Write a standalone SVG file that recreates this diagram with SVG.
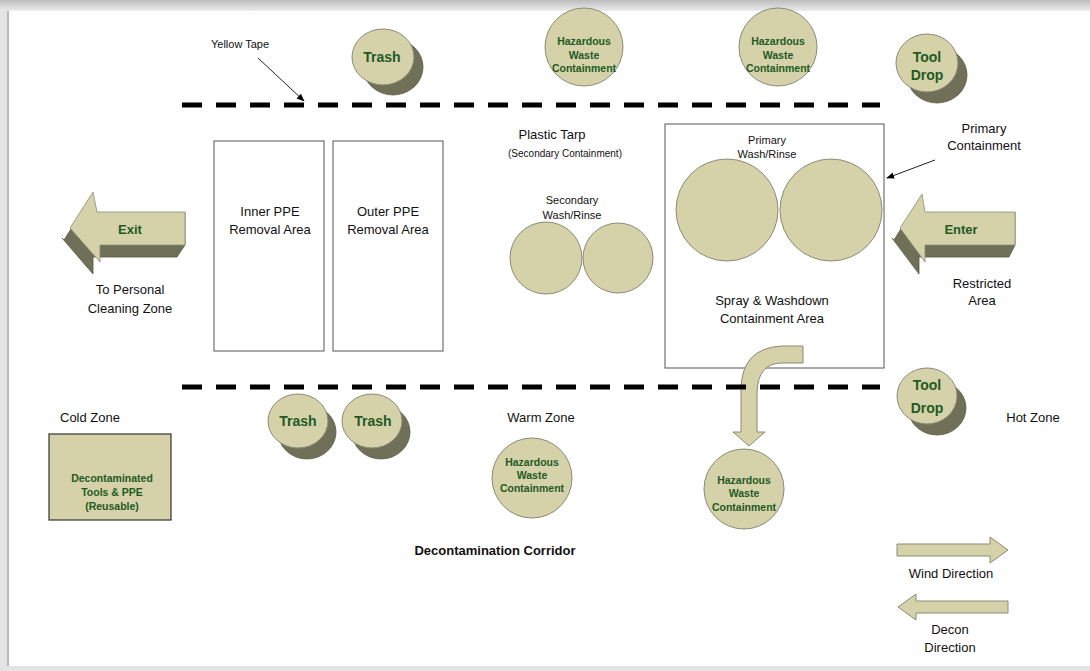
<svg xmlns="http://www.w3.org/2000/svg" width="1090" height="671" viewBox="0 0 1090 671">
<defs>
<style>
.lbl{font-family:"Liberation Sans",Arial,sans-serif;font-size:13px;fill:#111;text-anchor:middle}
.sm{font-family:"Liberation Sans",Arial,sans-serif;font-size:10px;fill:#111;text-anchor:middle}
.g{font-family:"Liberation Sans",Arial,sans-serif;font-weight:bold;fill:#1f5a22;text-anchor:middle}
.tan{fill:#d5d2aa;stroke:#8a8a78;stroke-width:1}
.dark{fill:#707058;stroke:#5a5a48;stroke-width:0.8}
.box{fill:#fff;stroke:#555;stroke-width:1}
.tape{stroke:#000;stroke-width:5;stroke-dasharray:20 14;fill:none}
</style>
<linearGradient id="topg" x1="0" y1="0" x2="0" y2="1">
<stop offset="0" stop-color="#bdbdbd"/><stop offset="1" stop-color="#ececec"/>
</linearGradient>
<marker id="ah" viewBox="0 0 10 10" refX="9" refY="5" markerWidth="8" markerHeight="8" orient="auto" markerUnits="userSpaceOnUse">
<path d="M0,1 L10,5 L0,9 Z" fill="#000"/>
</marker>
</defs>

<rect x="0" y="0" width="1090" height="671" fill="#e4e4e4"/>
<rect x="0" y="0" width="1090" height="11" fill="url(#topg)"/>
<rect x="8" y="11" width="1082" height="655" fill="#fff"/>
<line x1="8" y1="11" x2="8" y2="666" stroke="#b8b8b8" stroke-width="2"/>

<g id="yellow-tape"><text class="lbl" x="240" y="48" style="font-size:11px">Yellow Tape</text></g>

<g id="trash-top">
<ellipse class="dark" cx="393" cy="67" rx="30" ry="28"/>
<ellipse class="tan" cx="383" cy="57" rx="31" ry="28"/>
<text class="g" x="382" y="62" font-size="14">Trash</text>
</g>

<g id="haz-top-1">
<circle class="tan" cx="584" cy="47" r="39"/>
<text class="g" x="584" y="45" font-size="10.5">Hazardous</text>
<text class="g" x="584" y="59" font-size="10.5">Waste</text>
<text class="g" x="584" y="72" font-size="10.5">Containment</text>
</g>

<g id="haz-top-2">
<circle class="tan" cx="778" cy="47" r="39"/>
<text class="g" x="778" y="45" font-size="10.5">Hazardous</text>
<text class="g" x="778" y="59" font-size="10.5">Waste</text>
<text class="g" x="778" y="72" font-size="10.5">Containment</text>
</g>

<g id="tooldrop-top">
<ellipse class="dark" cx="937" cy="75" rx="30" ry="28"/>
<ellipse class="tan" cx="927" cy="63" rx="31" ry="29"/>
<text class="g" x="927" y="62" font-size="14">Tool</text>
<text class="g" x="927" y="80" font-size="14">Drop</text>
</g>

<g id="plastic-tarp">
<text class="lbl" x="552" y="139">Plastic Tarp</text>
<text class="sm" x="565" y="157">(Secondary Containment)</text>
</g>

<g id="primary-containment-label">
<text class="lbl" x="984" y="133">Primary</text>
<text class="lbl" x="984" y="150">Containment</text>
</g>

<g id="exit-arrow">
<polygon class="dark" points="64,240 86,205 90,224 177,224 185,212 185,245 177,257 93,257 93,274 62,238"/>
<polygon points="70,228 93,192 97,212 185,212 185,245 100,245 100,262" fill="#d5d2aa" stroke="#8a8a78" stroke-width="0.8"/>
<text class="g" x="130" y="234" font-size="13">Exit</text>
<text class="lbl" x="130" y="294">To Personal</text>
<text class="lbl" x="130" y="313">Cleaning Zone</text>
</g>

<g id="inner-ppe">
<rect class="box" x="214" y="141" width="110" height="210"/>
<text class="lbl" x="270" y="216">Inner PPE</text>
<text class="lbl" x="270" y="234">Removal Area</text>
</g>

<g id="outer-ppe">
<rect class="box" x="333" y="141" width="110" height="210"/>
<text class="lbl" x="388" y="216">Outer PPE</text>
<text class="lbl" x="388" y="234">Removal Area</text>
</g>

<g id="secondary-wash">
<text class="sm" x="572" y="204" style="font-size:11px">Secondary</text>
<text class="sm" x="572" y="219" style="font-size:11px">Wash/Rinse</text>
<circle class="tan" cx="546" cy="258" r="36"/>
<circle class="tan" cx="618" cy="258" r="35"/>
</g>

<g id="primary-area">
<rect class="box" x="665" y="124" width="219" height="244" stroke="#777"/>
<text class="sm" x="767" y="144" style="font-size:11px">Primary</text>
<text class="sm" x="767" y="158" style="font-size:11px">Wash/Rinse</text>
<circle class="tan" cx="727" cy="210" r="51"/>
<circle class="tan" cx="831" cy="210" r="51"/>
<text class="lbl" x="772" y="305">Spray &amp; Washdown</text>
<text class="lbl" x="772" y="323">Containment Area</text>
</g>

<g id="enter-arrow">
<polygon class="dark" points="894,240 916,205 919,224 1009,224 1015,212 1015,245 1009,257 919,257 919,274 892,238"/>
<polygon points="900,228 922,194 925,212 1015,212 1015,245 925,245 925,262" fill="#d5d2aa" stroke="#8a8a78" stroke-width="0.8"/>
<text class="g" x="961" y="234" font-size="13">Enter</text>
<text class="lbl" x="982" y="288">Restricted</text>
<text class="lbl" x="982" y="305">Area</text>
</g>

<g id="trash-bottom-1">
<ellipse class="dark" cx="307" cy="432" rx="29" ry="27"/>
<ellipse class="tan" cx="298" cy="421" rx="30" ry="27"/>
<text class="g" x="298" y="426" font-size="14">Trash</text>
</g>

<g id="trash-bottom-2">
<ellipse class="dark" cx="381" cy="432" rx="29" ry="27"/>
<ellipse class="tan" cx="372" cy="421" rx="30" ry="27"/>
<text class="g" x="373" y="426" font-size="14">Trash</text>
</g>

<g id="tooldrop-bottom">
<ellipse class="dark" cx="937" cy="408" rx="29" ry="27"/>
<ellipse class="tan" cx="927" cy="396" rx="30" ry="28"/>
<text class="g" x="927" y="390" font-size="14">Tool</text>
<text class="g" x="927" y="413" font-size="14">Drop</text>
</g>

<g id="zones">
<text class="lbl" x="90" y="422">Cold Zone</text>
<text class="lbl" x="541" y="422">Warm Zone</text>
<text class="lbl" x="1033" y="422">Hot Zone</text>
<text class="lbl" x="495" y="555" style="font-weight:bold">Decontamination Corridor</text>
</g>

<g id="decon-tools">
<rect x="49" y="434" width="122" height="86" fill="#d5d2aa" stroke="#333" stroke-width="1.2"/>
<text class="g" x="112" y="482" font-size="10.5">Decontaminated</text>
<text class="g" x="112" y="496" font-size="10.5">Tools &amp; PPE</text>
<text class="g" x="112" y="510" font-size="10.5">(Reusable)</text>
</g>

<g id="haz-warm">
<circle class="tan" cx="532" cy="478" r="40"/>
<text class="g" x="532" y="466" font-size="10.5">Hazardous</text>
<text class="g" x="532" y="479" font-size="10.5">Waste</text>
<text class="g" x="532" y="492" font-size="10.5">Containment</text>
</g>

<g id="haz-bottom-right">
<circle class="tan" cx="744" cy="489" r="40"/>
<text class="g" x="744" y="484" font-size="10.5">Hazardous</text>
<text class="g" x="744" y="497" font-size="10.5">Waste</text>
<text class="g" x="744" y="511" font-size="10.5">Containment</text>
</g>

<g id="wind-direction">
<polygon class="tan" points="897,544 990,544 990,537 1008,550 990,563 990,556 897,556"/>
<text class="lbl" x="951" y="578">Wind Direction</text>
</g>

<g id="decon-direction">
<polygon class="tan" points="1008,601 916,601 916,594 898,607 916,620 916,613 1008,613"/>
<text class="lbl" x="950" y="634">Decon</text>
<text class="lbl" x="950" y="652">Direction</text>
</g>

<g id="connectors">
<path d="M803,346 L782,346 Q741,348 741,390 L741,432 L733,432 L749,446 L765,432 L757,432 L757,392 Q758,363 782,363 L803,363 Z" class="tan"/>
<line class="tape" x1="182" y1="105" x2="880" y2="105"/>
<line class="tape" x1="182" y1="387" x2="880" y2="387"/>
<line x1="258" y1="58" x2="304" y2="101" stroke="#222" stroke-width="1" marker-end="url(#ah)"/>
<line x1="935" y1="160" x2="887" y2="178" stroke="#222" stroke-width="1" marker-end="url(#ah)"/>
</g>
</svg>
